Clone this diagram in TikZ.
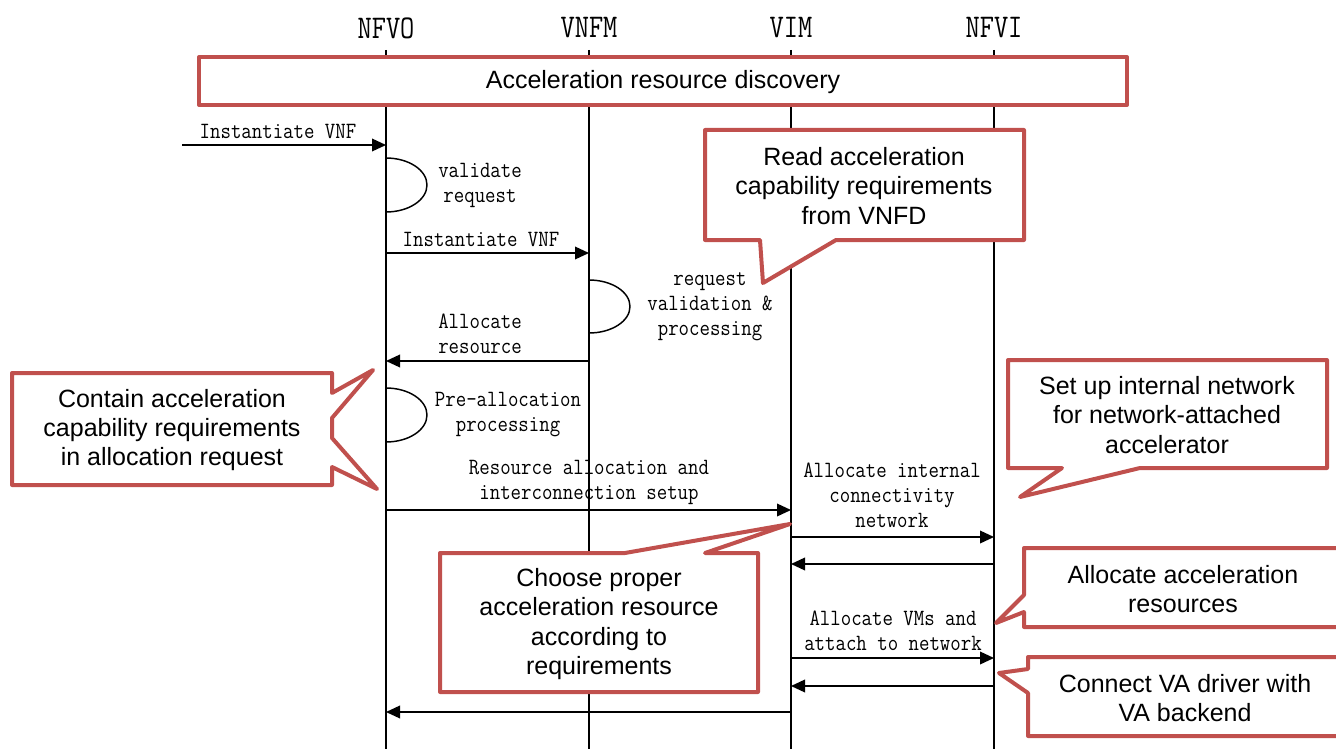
\documentclass[tikz,border=0pt]{standalone}
\usepackage{fontspec}
\setmainfont{Liberation Sans}
\usetikzlibrary{arrows.meta}
\definecolor{noteRed}{RGB}{192,80,77}
\tikzset{
	lifeline/.style={line width=1.1pt},
	msg/.style={line width=1.1pt, -{Triangle[length=10.5pt,width=9.5pt]}},
	selfloop/.style={line width=1.1pt},
	msglabel/.style={font=\ttfamily\fontsize{15.2}{16.3}\selectfont, align=center, yscale=1.15, inner sep=0pt},
	entity/.style={font=\ttfamily\fontsize{20.7}{22}\selectfont, yscale=1.2, inner sep=0pt},
	note/.style={draw=noteRed, line width=3pt, fill=white, line join=round},
	notetext/.style={font=\fontsize{18.75}{22}\selectfont, align=center, inner sep=0pt},
}

\begin{document}
\begin{tikzpicture}[x=0.75pt, y=-0.75pt]
	\useasboundingbox (0,0) rectangle (1336,749);
	\clip (0,0) rectangle (1336,749);

	\node[entity] (nfvo) at (386,28) {NFVO};
	\node[entity] (vnfm) at (589,28) {VNFM};
	\node[entity] (vim)  at (791,28) {VIM};
	\node[entity] (nfvi) at (994,28) {NFVI};

	\coordinate (top)    at (0,50);
	\coordinate (bottom) at (0,749);
	\draw[lifeline] (nfvo |- top) -- (nfvo |- bottom);
	\draw[lifeline] (vnfm |- top) -- (vnfm |- bottom);
	\draw[lifeline] (vim |- top)  -- (vim |- bottom);
	\draw[lifeline] (nfvi |- top) -- (nfvi |- bottom);

	\draw[note] (199,57) rectangle (1127,105);
	\node[notetext] (discovery) at (663,82) {Acceleration resource discovery};

	\coordinate (src) at (182,145);
	\coordinate (r2)  at (0,253);
	\coordinate (r3)  at (0,361);
	\coordinate (r4)  at (0,510);
	\coordinate (r5)  at (0,537);
	\coordinate (r6)  at (0,564);
	\coordinate (r7)  at (0,658);
	\coordinate (r8)  at (0,686);
	\coordinate (r9)  at (0,712);
	\coordinate (la)  at (0,158);
	\coordinate (lb)  at (0,280);
	\coordinate (lc)  at (0,388);

	\draw[msg] (src) -- (nfvo |- src);
	\node[msglabel] (instA) at (278,131) {Instantiate VNF};

	\draw[selfloop] (nfvo |- la) arc[start angle=-90, end angle=90, x radius=41, y radius=27];
	\node[msglabel] (validate) at (480,185) {validate\\request};

	\draw[msg] (nfvo |- r2) -- (vnfm |- r2);
	\node[msglabel] (instB) at (481,239) {Instantiate VNF};

	\draw[selfloop] (vnfm |- lb) arc[start angle=-90, end angle=90, x radius=41, y radius=26.5];
	\node[msglabel] (reqval) at (710,307) {request\\validation \&\\processing};

	\draw[msg] (vnfm |- r3) -- (nfvo |- r3);
	\node[msglabel] (alloc) at (480,334) {Allocate\\resource};

	\draw[selfloop] (nfvo |- lc) arc[start angle=-90, end angle=90, x radius=41, y radius=27];
	\node[msglabel] (prealloc) at (508,415) {Pre-allocation\\processing};

	\draw[msg] (nfvo |- r4) -- (vim |- r4);
	\node[msglabel] (resalloc) at (589,482) {Resource allocation and\\interconnection setup};

	\draw[msg] (vim |- r5) -- (nfvi |- r5);
	\node[msglabel] (intnet) at (892,495) {Allocate internal\\connectivity\\network};

	\draw[msg] (nfvi |- r6) -- (vim |- r6);

	\draw[msg] (vim |- r7) -- (nfvi |- r7);
	\node[msglabel] (allocvm) at (893,631) {Allocate VMs and\\attach to network};

	\draw[msg] (nfvi |- r8) -- (vim |- r8);
	\draw[msg] (vim |- r9) -- (nfvo |- r9);

	\draw[note] (705,130) -- (1024,130) -- (1024,240) -- (836,240) -- (763,283) -- (760,240) -- (705,240) -- cycle;
	\node[notetext] (readreq) at (864,186) {Read acceleration\\capability requirements\\from VNFD};

	\draw[note] (12,373) -- (332,373) -- (332,393) -- (373,370) -- (332,418) -- (332,438) -- (377,489) -- (332,467) -- (332,485) -- (12,485) -- cycle;
	\node[notetext] (containreq) at (172,430) {Contain acceleration\\capability requirements\\in allocation request};

	\draw[note] (1008,360) -- (1327,360) -- (1327,468) -- (1140,468) -- (1020,497) -- (1062,468) -- (1008,468) -- cycle;
	\node[notetext] (setupnet) at (1167,415) {Set up internal network\\for network-attached\\accelerator};

	\draw[note] (440,553) -- (625,553) -- (790,524) -- (705,553) -- (758,553) -- (758,692) -- (440,692) -- cycle;
	\node[notetext] (choose) at (599,624) {Choose proper\\acceleration resource\\according to\\requirements};

	\draw[note] (1024,548) -- (1350,548) -- (1350,627) -- (1024,627) -- (1024,612) -- (996,623) -- (1024,595) -- cycle;
	\node[notetext] (allocacc) at (1183,589) {Allocate acceleration\\resources};

	\draw[note] (1028,657) -- (1350,657) -- (1350,736) -- (1028,736) -- (1028,693) -- (999,673) -- (1028,669) -- cycle;
	\node[notetext] (connectva) at (1185,698) {Connect VA driver with\\VA backend};
\end{tikzpicture}
\end{document}
